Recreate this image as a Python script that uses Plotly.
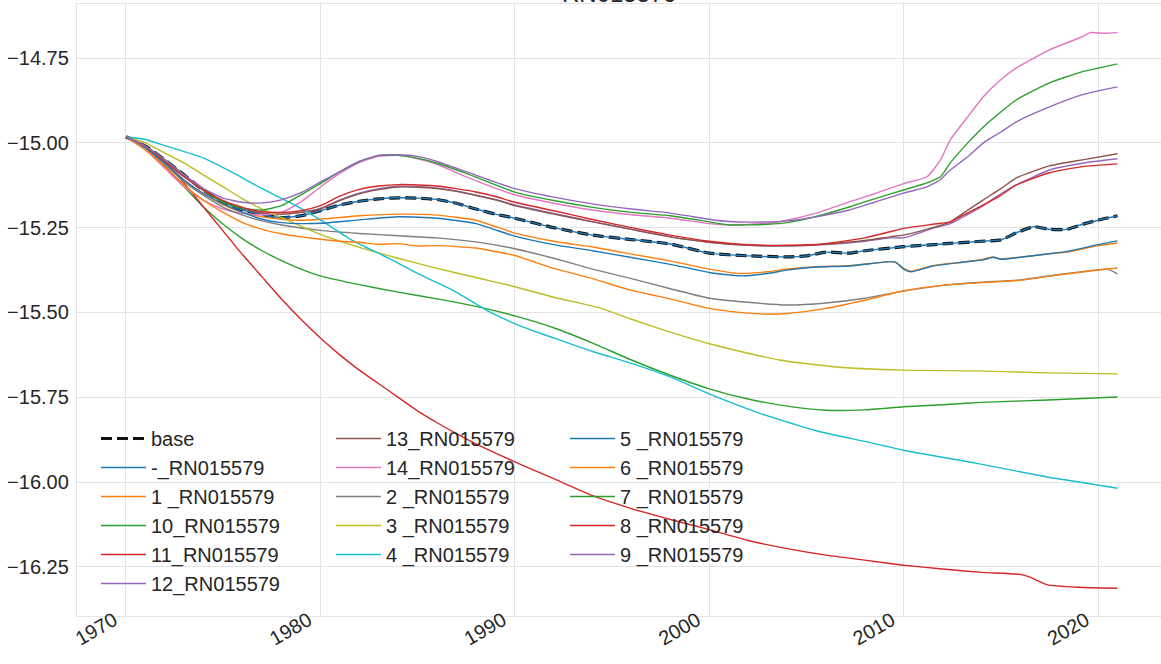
import plotly.graph_objects as go

# ---- series data (year, value) ----
BASE_YEARS = [1970, 1971, 1972, 1973, 1974, 1975, 1976, 1977, 1978, 1979, 1980, 1981, 1982, 1983,
              1984, 1985, 1986, 1987, 1988, 1989, 1990, 1992, 1994, 1996, 1998, 2000, 2002, 2004,
              2005, 2006, 2007.2, 2008, 2010, 2012, 2014, 2015, 2015.8, 2016.7, 2017.5, 2018.4,
              2019.2, 2020, 2021]
BASE_VALUES = [-14.982, -15.01, -15.05, -15.095, -15.14, -15.175, -15.198, -15.212, -15.22, -15.215,
               -15.2, -15.183, -15.172, -15.165, -15.162, -15.163, -15.167, -15.178, -15.195, -15.21,
               -15.222, -15.25, -15.272, -15.285, -15.298, -15.325, -15.333, -15.336, -15.333, -15.322,
               -15.325, -15.318, -15.306, -15.298, -15.29, -15.286, -15.265, -15.247, -15.255, -15.255,
               -15.24, -15.228, -15.215]

MID_YEARS = [1970, 1971, 1972, 1973, 1974, 1975, 1976, 1977, 1978, 1979, 1980, 1982, 1984, 1986,
             1988, 1990, 1992, 1994, 1996, 1998, 2000, 2001.6, 2003, 2004, 2005.5, 2007.2, 2009.3,
             2009.6, 2010, 2010.4, 2011.5, 2013, 2014.1, 2014.6, 2015, 2016, 2017.5, 2018.4, 2020, 2021]
S5_VALUES = [-14.982, -15.015, -15.06, -15.11, -15.15, -15.18, -15.205, -15.225, -15.235, -15.238,
             -15.237, -15.227, -15.218, -15.222, -15.238, -15.275, -15.3, -15.318, -15.338, -15.358,
             -15.382, -15.392, -15.385, -15.375, -15.366, -15.363, -15.35, -15.352, -15.372, -15.38,
             -15.363, -15.352, -15.345, -15.337, -15.343, -15.337, -15.327, -15.32, -15.3, -15.289]
S1_VALUES = [-14.982, -15.015, -15.06, -15.11, -15.15, -15.183, -15.205, -15.218, -15.225, -15.228,
             -15.225, -15.215, -15.21, -15.213, -15.228, -15.266, -15.29, -15.307, -15.328, -15.348,
             -15.372, -15.385, -15.38, -15.372, -15.365, -15.362, -15.35, -15.352, -15.37, -15.378,
             -15.362, -15.352, -15.343, -15.336, -15.342, -15.337, -15.327, -15.322, -15.303, -15.295]

S2_YEARS = [1970, 1971, 1972, 1973, 1974, 1975, 1976, 1977, 1978, 1980, 1982, 1984, 1986, 1988,
            1990, 1992, 1994, 1996, 1998, 2000, 2002, 2004, 2006, 2008, 2010, 2012, 2014, 2016,
            2018, 2020, 2020.5, 2021]
S2_VALUES = [-14.982, -15.015, -15.065, -15.115, -15.155, -15.19, -15.213, -15.23, -15.242, -15.258,
             -15.267, -15.274, -15.28, -15.292, -15.312, -15.34, -15.372, -15.4, -15.43, -15.458,
             -15.47, -15.478, -15.472, -15.458, -15.437, -15.42, -15.411, -15.404, -15.388, -15.374,
             -15.372, -15.386]

S6_YEARS = [1970, 1971, 1972, 1973, 1974, 1975, 1976, 1977, 1978, 1979, 1980, 1981, 1982, 1983,
            1984, 1985, 1986, 1988, 1990, 1992, 1994, 1996, 1998, 2000, 2002, 2003, 2004, 2006,
            2007.2, 2008, 2010, 2012, 2014, 2016, 2018, 2020, 2021]
S6_VALUES = [-14.982, -15.02, -15.07, -15.125, -15.17, -15.205, -15.235, -15.255, -15.268, -15.277,
             -15.284, -15.29, -15.293, -15.299, -15.297, -15.304, -15.303, -15.31, -15.332, -15.37,
             -15.4, -15.435, -15.46, -15.488, -15.502, -15.505, -15.503, -15.488, -15.474, -15.464,
             -15.436, -15.42, -15.412, -15.405, -15.389, -15.375, -15.369]

S3_YEARS = [1970, 1971, 1972, 1973, 1974, 1975, 1976, 1977, 1978, 1980, 1982, 1984, 1986, 1988,
            1990, 1992, 1994.4, 1996, 1998, 2000, 2002, 2003.6, 2006.4, 2010, 2013.7, 2017.4, 2021]
S3_VALUES = [-14.982, -15.0, -15.03, -15.06, -15.095, -15.13, -15.165, -15.195, -15.22, -15.27,
             -15.308, -15.34, -15.37, -15.397, -15.424, -15.455, -15.487, -15.52, -15.558, -15.592,
             -15.62, -15.64, -15.66, -15.67, -15.672, -15.678, -15.681]

S10_YEARS = [1970, 1971, 1972, 1973, 1974, 1975, 1976, 1977, 1978, 1979, 1980, 1982, 1984, 1986,
             1988, 1990, 1992, 1994, 1996, 1998, 2000, 2002, 2004, 2006, 2008, 2010, 2012, 2014,
             2017.4, 2021]
S10_VALUES = [-14.982, -15.02, -15.07, -15.13, -15.19, -15.24, -15.283, -15.318, -15.347, -15.372,
              -15.392, -15.418, -15.44, -15.46, -15.482, -15.51, -15.545, -15.59, -15.64, -15.685,
              -15.725, -15.755, -15.776, -15.788, -15.787, -15.778, -15.772, -15.765, -15.758, -15.749]

S4_YEARS = [1970, 1971, 1972, 1974, 1975.5, 1977, 1978.4, 1980, 1981.6, 1983.5, 1985, 1986.9,
            1988.6, 1990.3, 1992, 1994, 1996, 1998, 2000, 2002.5, 2005.4, 2008, 2010, 2013.7,
            2017.4, 2021]
S4_VALUES = [-14.982, -14.99, -15.008, -15.045, -15.088, -15.135, -15.175, -15.227, -15.286, -15.34,
             -15.385, -15.437, -15.495, -15.54, -15.575, -15.615, -15.65, -15.69, -15.74, -15.795,
             -15.847, -15.88, -15.906, -15.944, -15.985, -16.018]

S11_YEARS = [1970, 1971, 1972, 1973, 1974, 1975, 1976, 1977, 1978, 1979, 1980, 1981, 1982, 1983,
             1984, 1985, 1986, 1987, 1988, 1990, 1992, 1994, 1996, 1998, 2000, 2002, 2004, 2006,
             2008, 2010, 2012, 2014, 2016, 2016.5, 2017.4, 2019, 2021]
S11_VALUES = [-14.982, -15.01, -15.055, -15.12, -15.19, -15.26, -15.33, -15.395, -15.46, -15.52,
              -15.575, -15.625, -15.67, -15.71, -15.75, -15.79, -15.825, -15.857, -15.887, -15.94,
              -15.99, -16.04, -16.078, -16.11, -16.14, -16.172, -16.196, -16.215, -16.23, -16.245,
              -16.256, -16.266, -16.272, -16.28, -16.303, -16.31, -16.313]

UP_YEARS = [1970, 1971, 1972, 1973, 1974, 1975, 1976, 1977, 1978, 1979, 1980, 1981, 1982, 1983,
            1984, 1985, 1986, 1987.5, 1990, 1992, 1994, 1996, 1998, 2000, 2001, 2003, 2004, 2005.5,
            2007.2, 2008.5, 2010, 2011.2, 2011.9, 2012.4, 2013.3, 2014.1, 2015, 2015.8, 2017.5,
            2019.2, 2019.6, 2020.3, 2021]
S14_VALUES = [-14.982, -15.02, -15.075, -15.13, -15.17, -15.195, -15.208, -15.212, -15.205, -15.174,
              -15.13, -15.09, -15.058, -15.04, -15.037, -15.047, -15.063, -15.1, -15.153, -15.178,
              -15.198, -15.212, -15.222, -15.238, -15.242, -15.237, -15.228, -15.207, -15.174, -15.15,
              -15.12, -15.1, -15.05, -14.991, -14.923, -14.864, -14.814, -14.779, -14.726, -14.687,
              -14.675, -14.677, -14.675]
S7_VALUES = [-14.982, -15.01, -15.05, -15.095, -15.14, -15.175, -15.193, -15.198, -15.185, -15.153,
             -15.12, -15.085, -15.055, -15.037, -15.037, -15.045, -15.06, -15.09, -15.145, -15.17,
             -15.19, -15.205, -15.215, -15.233, -15.242, -15.24, -15.235, -15.217, -15.189, -15.165,
             -15.139, -15.118, -15.1, -15.059, -15.0, -14.953, -14.909, -14.873, -14.823, -14.79,
             -14.785, -14.776, -14.767]
S9_VALUES = [-14.982, -15.01, -15.05, -15.095, -15.135, -15.163, -15.175, -15.177, -15.168, -15.147,
             -15.115, -15.085, -15.055, -15.037, -15.035, -15.04, -15.055, -15.085, -15.135, -15.16,
             -15.18, -15.195, -15.207, -15.225, -15.232, -15.233, -15.23, -15.218, -15.198, -15.175,
             -15.148, -15.13, -15.108, -15.08, -15.041, -15.0, -14.968, -14.938, -14.894, -14.858,
             -14.852, -14.843, -14.835]

GRP_YEARS = [1970, 1971, 1972, 1973, 1974, 1975, 1976, 1977, 1978, 1979, 1980, 1981, 1982, 1983,
             1984, 1985, 1986, 1987, 1988, 1989, 1990, 1992, 1994, 1996, 1998, 2000, 2002, 2004,
             2006, 2008, 2009.3, 2010, 2011.5, 2012.4, 2013, 2014.1, 2015, 2015.8, 2017.5, 2019.2,
             2021]
S8_VALUES = [-14.982, -15.01, -15.055, -15.1, -15.14, -15.17, -15.19, -15.203, -15.205, -15.2,
             -15.185, -15.157, -15.137, -15.127, -15.123, -15.124, -15.127, -15.135, -15.145, -15.158,
             -15.175, -15.2, -15.226, -15.25, -15.272, -15.29, -15.3, -15.302, -15.297, -15.28,
             -15.262, -15.252, -15.24, -15.233, -15.215, -15.183, -15.155, -15.124, -15.088, -15.07,
             -15.062]
S13_VALUES = [-14.982, -15.01, -15.055, -15.1, -15.14, -15.172, -15.193, -15.207, -15.21, -15.205,
              -15.195, -15.17, -15.15, -15.138, -15.13, -15.131, -15.135, -15.143, -15.155, -15.168,
              -15.185, -15.21, -15.233, -15.255, -15.277, -15.293, -15.302, -15.303, -15.298, -15.288,
              -15.277, -15.272, -15.25, -15.233, -15.21, -15.168, -15.135, -15.103, -15.068, -15.05,
              -15.032]
S12_VALUES = [-14.982, -15.01, -15.055, -15.1, -15.14, -15.172, -15.193, -15.207, -15.21, -15.205,
              -15.193, -15.168, -15.148, -15.135, -15.128, -15.129, -15.133, -15.142, -15.154, -15.167,
              -15.183, -15.208, -15.232, -15.255, -15.277, -15.293, -15.302, -15.304, -15.3, -15.29,
              -15.28, -15.28, -15.252, -15.238, -15.22, -15.185, -15.15, -15.124, -15.08, -15.06,
              -15.047]

# label, years, values, colour, legend column
SERIES = [
    ("-_RN015579", BASE_YEARS, BASE_VALUES, "#1f77b4", "legend"),
    ("1 _RN015579", MID_YEARS, S1_VALUES, "#ff7f0e", "legend"),
    ("10_RN015579", S10_YEARS, S10_VALUES, "#2ca02c", "legend"),
    ("11_RN015579", S11_YEARS, S11_VALUES, "#d62728", "legend"),
    ("12_RN015579", GRP_YEARS, S12_VALUES, "#9467bd", "legend"),
    ("13_RN015579", GRP_YEARS, S13_VALUES, "#8c564b", "legend2"),
    ("14_RN015579", UP_YEARS, S14_VALUES, "#e377c2", "legend2"),
    ("2 _RN015579", S2_YEARS, S2_VALUES, "#7f7f7f", "legend2"),
    ("3 _RN015579", S3_YEARS, S3_VALUES, "#bcbd22", "legend2"),
    ("4 _RN015579", S4_YEARS, S4_VALUES, "#17becf", "legend2"),
    ("5 _RN015579", MID_YEARS, S5_VALUES, "#1f77b4", "legend3"),
    ("6 _RN015579", S6_YEARS, S6_VALUES, "#ff7f0e", "legend3"),
    ("7 _RN015579", UP_YEARS, S7_VALUES, "#2ca02c", "legend3"),
    ("8 _RN015579", GRP_YEARS, S8_VALUES, "#d62728", "legend3"),
    ("9 _RN015579", UP_YEARS, S9_VALUES, "#9467bd", "legend3"),
]

Y_TICKS = [-16.25, -16.0, -15.75, -15.5, -15.25, -15.0, -14.75]
X_TICKS = [1970, 1980, 1990, 2000, 2010, 2020]

FONT = "Liberation Sans, Arial, sans-serif"
TEXT = "#262626"
GRID = "#e3e3e3"

W, H = 1161, 664
ML, MR, MT, MB = 77, 0, 4, 48
PLOT_W = W - ML - MR
PLOT_H = H - MT - MB


def legend_box(px_left, px_top):
    """Legend placed by its top-left corner in page pixels."""
    return dict(
        x=(px_left - ML) / PLOT_W, y=1 - (px_top - MT) / PLOT_H,
        xanchor="left", yanchor="top", orientation="v",
        bgcolor="rgba(0,0,0,0)", itemwidth=45, traceorder="normal",
        font=dict(family=FONT, size=20, color=TEXT),
    )


fig = go.Figure()
fig.add_trace(go.Scatter(
    x=BASE_YEARS, y=BASE_VALUES, mode="lines", name="base", legend="legend",
    line=dict(color="#111111", width=3.2, dash="11px,5px", shape="spline", smoothing=0.5),
))
for label, xs, ys, colour, leg in SERIES:
    fig.add_trace(go.Scatter(
        x=xs, y=ys, mode="lines", name=label, legend=leg,
        line=dict(color=colour, width=1.4, shape="spline", smoothing=0.5),
    ))

fig.add_annotation(
    text="RN015579", xref="paper", yref="paper", x=0.5, y=1, yanchor="bottom",
    yshift=-5, showarrow=False, font=dict(family=FONT, size=24, color=TEXT),
)

fig.update_layout(
    width=W, height=H,
    margin=dict(l=ML, r=MR, t=MT, b=MB),
    paper_bgcolor="white", plot_bgcolor="white",
    font=dict(family=FONT, size=20, color=TEXT),
    showlegend=True,
    legend=legend_box(96, 419),
    legend2=legend_box(331, 419),
    legend3=legend_box(565, 419),
    xaxis=dict(
        range=[1967.48, 2023.24], tickmode="array", tickvals=X_TICKS,
        ticktext=[str(v) for v in X_TICKS], tickangle=-30,
        showgrid=True, gridcolor=GRID, gridwidth=1.3, zeroline=False,
        showline=True, linecolor=GRID, linewidth=1.3, mirror=True,
        ticks="", ticklabelstandoff=-16, ticklabelshift=-12, automargin=False,
        tickfont=dict(family=FONT, size=20, color=TEXT),
    ),
    yaxis=dict(
        range=[-16.3946, -14.5907], tickmode="array", tickvals=Y_TICKS,
        ticktext=[f"\u2212{abs(v):.2f}" for v in Y_TICKS],
        showgrid=True, gridcolor=GRID, gridwidth=1.3, zeroline=False,
        showline=True, linecolor=GRID, linewidth=1.3,
        ticks="", ticklabelstandoff=3, automargin=False,
        tickfont=dict(family=FONT, size=20, color=TEXT),
    ),
)

fig.write_html("out.html")
